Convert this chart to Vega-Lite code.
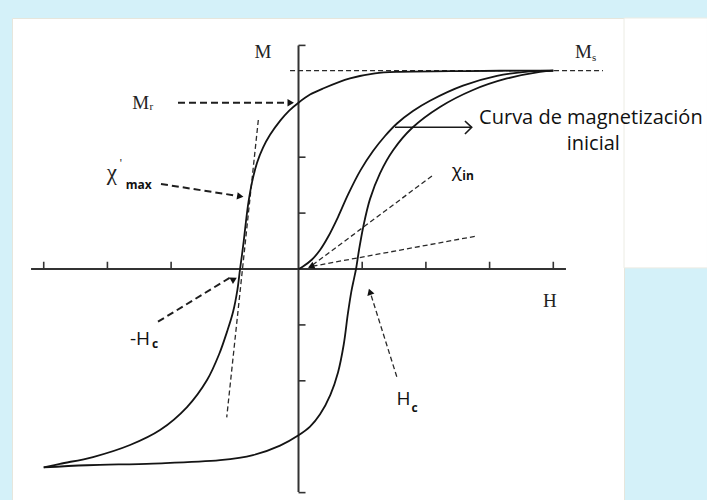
{
  "$schema": "https://vega.github.io/schema/vega-lite/v6.json",
  "width": 612,
  "height": 482,
  "autosize": {"type": "none"},
  "padding": {"left": 12, "top": 18, "right": 83, "bottom": 0},
  "background": "#d4f1f9",
  "config": {"view": {"fill": "#ffffff", "stroke": "#e6e6dc", "strokeWidth": 1}},
  "datasets": {
    "loop": [
      {"branch": "descending", "seq": 1, "H": 4.0, "M": 3.55},
      {"branch": "descending", "seq": 2, "H": 3.163, "M": 3.546},
      {"branch": "descending", "seq": 3, "H": 2.378, "M": 3.538},
      {"branch": "descending", "seq": 4, "H": 1.593, "M": 3.528},
      {"branch": "descending", "seq": 5, "H": 1.201, "M": 3.5},
      {"branch": "descending", "seq": 6, "H": 0.808, "M": 3.41},
      {"branch": "descending", "seq": 7, "H": 0.385, "M": 3.229},
      {"branch": "descending", "seq": 8, "H": 0.181, "M": 3.12},
      {"branch": "descending", "seq": 9, "H": 0.0, "M": 2.975},
      {"branch": "descending", "seq": 10, "H": -0.15, "M": 2.83},
      {"branch": "descending", "seq": 11, "H": -0.29, "M": 2.65},
      {"branch": "descending", "seq": 12, "H": -0.447, "M": 2.4},
      {"branch": "descending", "seq": 13, "H": -0.557, "M": 2.17},
      {"branch": "descending", "seq": 14, "H": -0.651, "M": 1.9},
      {"branch": "descending", "seq": 15, "H": -0.73, "M": 1.55},
      {"branch": "descending", "seq": 16, "H": -0.785, "M": 1.2},
      {"branch": "descending", "seq": 17, "H": -0.825, "M": 0.85},
      {"branch": "descending", "seq": 18, "H": -0.86, "M": 0.5},
      {"branch": "descending", "seq": 19, "H": -0.89, "M": 0.23},
      {"branch": "descending", "seq": 20, "H": -0.918, "M": 0.0},
      {"branch": "descending", "seq": 21, "H": -0.96, "M": -0.376},
      {"branch": "descending", "seq": 22, "H": -1.028, "M": -0.769},
      {"branch": "descending", "seq": 23, "H": -1.122, "M": -1.12},
      {"branch": "descending", "seq": 24, "H": -1.245, "M": -1.52},
      {"branch": "descending", "seq": 25, "H": -1.436, "M": -1.986},
      {"branch": "descending", "seq": 26, "H": -1.75, "M": -2.469},
      {"branch": "descending", "seq": 27, "H": -2.174, "M": -2.88},
      {"branch": "descending", "seq": 28, "H": -2.645, "M": -3.148},
      {"branch": "descending", "seq": 29, "H": -3.226, "M": -3.363},
      {"branch": "descending", "seq": 30, "H": -3.744, "M": -3.485},
      {"branch": "descending", "seq": 31, "H": -4.0, "M": -3.55},
      {"branch": "ascending", "seq": 1, "H": -4.0, "M": -3.55},
      {"branch": "ascending", "seq": 2, "H": -3.32, "M": -3.51},
      {"branch": "ascending", "seq": 3, "H": -2.284, "M": -3.48},
      {"branch": "ascending", "seq": 4, "H": -1.232, "M": -3.42},
      {"branch": "ascending", "seq": 5, "H": -0.714, "M": -3.33},
      {"branch": "ascending", "seq": 6, "H": -0.29, "M": -3.16},
      {"branch": "ascending", "seq": 7, "H": 0.0, "M": -2.975},
      {"branch": "ascending", "seq": 8, "H": 0.181, "M": -2.82},
      {"branch": "ascending", "seq": 9, "H": 0.338, "M": -2.6},
      {"branch": "ascending", "seq": 10, "H": 0.5, "M": -2.25},
      {"branch": "ascending", "seq": 11, "H": 0.62, "M": -1.85},
      {"branch": "ascending", "seq": 12, "H": 0.71, "M": -1.35},
      {"branch": "ascending", "seq": 13, "H": 0.775, "M": -0.8},
      {"branch": "ascending", "seq": 14, "H": 0.83, "M": -0.4},
      {"branch": "ascending", "seq": 15, "H": 0.87, "M": -0.18},
      {"branch": "ascending", "seq": 16, "H": 0.903, "M": 0.0},
      {"branch": "ascending", "seq": 17, "H": 0.95, "M": 0.34},
      {"branch": "ascending", "seq": 18, "H": 1.017, "M": 0.757},
      {"branch": "ascending", "seq": 19, "H": 1.122, "M": 1.25},
      {"branch": "ascending", "seq": 20, "H": 1.279, "M": 1.712},
      {"branch": "ascending", "seq": 21, "H": 1.488, "M": 2.129},
      {"branch": "ascending", "seq": 22, "H": 1.782, "M": 2.522},
      {"branch": "ascending", "seq": 23, "H": 2.221, "M": 2.898},
      {"branch": "ascending", "seq": 24, "H": 2.739, "M": 3.202},
      {"branch": "ascending", "seq": 25, "H": 3.273, "M": 3.408},
      {"branch": "ascending", "seq": 26, "H": 3.791, "M": 3.528},
      {"branch": "ascending", "seq": 27, "H": 4.0, "M": 3.55},
      {"branch": "initial", "seq": 1, "H": 0.0, "M": 0.0},
      {"branch": "initial", "seq": 2, "H": 0.07, "M": 0.045},
      {"branch": "initial", "seq": 3, "H": 0.212, "M": 0.17},
      {"branch": "initial", "seq": 4, "H": 0.338, "M": 0.34},
      {"branch": "initial", "seq": 5, "H": 0.463, "M": 0.572},
      {"branch": "initial", "seq": 6, "H": 0.62, "M": 0.93},
      {"branch": "initial", "seq": 7, "H": 0.777, "M": 1.33},
      {"branch": "initial", "seq": 8, "H": 0.97, "M": 1.76},
      {"branch": "initial", "seq": 9, "H": 1.17, "M": 2.11},
      {"branch": "initial", "seq": 10, "H": 1.358, "M": 2.379},
      {"branch": "initial", "seq": 11, "H": 1.546, "M": 2.603},
      {"branch": "initial", "seq": 12, "H": 1.797, "M": 2.826},
      {"branch": "initial", "seq": 13, "H": 2.064, "M": 3.01},
      {"branch": "initial", "seq": 14, "H": 2.582, "M": 3.28},
      {"branch": "initial", "seq": 15, "H": 3.116, "M": 3.455},
      {"branch": "initial", "seq": 16, "H": 3.634, "M": 3.535},
      {"branch": "initial", "seq": 17, "H": 4.0, "M": 3.55}
    ],
    "guides": [
      {"id": "ms", "kind": "thin", "seq": 1, "H": -0.133, "M": 3.55},
      {"id": "ms", "kind": "thin", "seq": 2, "H": 4.78, "M": 3.55},
      {"id": "mr", "kind": "pointer", "seq": 1, "H": -1.892, "M": 2.975},
      {"id": "mr", "kind": "pointer", "seq": 2, "H": -0.2, "M": 2.975},
      {"id": "chimax", "kind": "pointer", "seq": 1, "H": -2.159, "M": 1.521},
      {"id": "chimax", "kind": "pointer", "seq": 2, "H": -0.97, "M": 1.31},
      {"id": "hcneg", "kind": "pointer", "seq": 1, "H": -2.206, "M": -0.943},
      {"id": "hcneg", "kind": "pointer", "seq": 2, "H": -1.07, "M": -0.15},
      {"id": "tangent", "kind": "thin", "seq": 1, "H": -0.631, "M": 2.665},
      {"id": "tangent", "kind": "thin", "seq": 2, "H": -1.127, "M": -2.653},
      {"id": "chin_a", "kind": "thin", "seq": 1, "H": 0.22, "M": 0.07},
      {"id": "chin_a", "kind": "thin", "seq": 2, "H": 2.116, "M": 1.682},
      {"id": "chin_b", "kind": "thin", "seq": 1, "H": 0.22, "M": 0.05},
      {"id": "chin_b", "kind": "thin", "seq": 2, "H": 2.797, "M": 0.59},
      {"id": "hc", "kind": "thin", "seq": 1, "H": 1.543, "M": -1.927},
      {"id": "hc", "kind": "thin", "seq": 2, "H": 1.14, "M": -0.47},
      {"id": "initarrow", "kind": "solid", "seq": 1, "H": 1.515, "M": 2.535},
      {"id": "initarrow", "kind": "solid", "seq": 2, "H": 2.719, "M": 2.535},
      {"id": "inithead", "kind": "solid", "seq": 1, "H": 2.613, "M": 2.648},
      {"id": "inithead", "kind": "solid", "seq": 2, "H": 2.719, "M": 2.535},
      {"id": "inithead", "kind": "solid", "seq": 3, "H": 2.613, "M": 2.415}
    ],
    "heads": [
      {"target": "Mr", "H": -0.122, "M": 2.975, "dir": 0},
      {"target": "chi max", "H": -0.914, "M": 1.3, "dir": 9},
      {"target": "-Hc", "H": -1.013, "M": -0.184, "dir": -29},
      {"target": "Hc", "H": 1.121, "M": -0.406, "dir": -108},
      {"target": "chi in", "H": 0.196, "M": 0.045, "dir": 157}
    ],
    "axes": [
      {"H": -4.199, "H2": 4.199, "M": 0, "M2": 0},
      {"H": 0, "H2": 0, "M": -3.99, "M2": 4.0}
    ],
    "ticksH": [
      {"H": -4, "M": 0}, {"H": -3, "M": 0}, {"H": -2, "M": 0},
      {"H": 1, "M": 0}, {"H": 2, "M": 0}, {"H": 3, "M": 0}, {"H": 4, "M": 0}
    ],
    "ticksM": [
      {"H": 0, "M": -4}, {"H": 0, "M": -2}, {"H": 0, "M": -1},
      {"H": 0, "M": 1}, {"H": 0, "M": 2}, {"H": 0, "M": 4}
    ],
    "panel": [
      {"H": 5.11, "H2": 6.42, "M": 4.49, "M2": 0.02}
    ],
    "labels": [
      {"role": "serif", "t": "M", "H": -0.557, "M": 3.775},
      {"role": "serif", "t": "M", "H": 4.472, "M": 3.769},
      {"role": "serif", "t": "M", "H": -2.476, "M": 2.857},
      {"role": "serif", "t": "H", "H": 3.948, "M": -0.674},
      {"role": "serifsub", "t": "s", "H": 4.64, "M": 3.721},
      {"role": "serifsub", "t": "r", "H": -2.31, "M": 2.844},
      {"role": "greek", "t": "χ", "H": -2.93, "M": 1.592},
      {"role": "prime", "t": "'", "H": -2.79, "M": 1.82},
      {"role": "sans", "t": "-H", "H": -2.488, "M": -1.36},
      {"role": "sans", "t": "H", "H": 1.648, "M": -2.433},
      {"role": "sans", "t": "χ", "H": 2.488, "M": 1.646},
      {"role": "sub", "t": "c", "H": -2.253, "M": -1.419},
      {"role": "sub", "t": "c", "H": 1.824, "M": -2.553},
      {"role": "sub", "t": "in", "H": 2.661, "M": 1.592},
      {"role": "sub", "t": "max", "H": -2.507, "M": 1.426},
      {"role": "caption", "t": "Curva de magnetización", "H": 4.59, "M": 2.594},
      {"role": "caption", "t": "inicial", "H": 4.628, "M": 2.129}
    ]
  },
  "encoding": {
    "x": {"field": "H", "type": "quantitative", "scale": {"domain": [-4.498, 5.11], "nice": false, "zero": false}, "axis": null},
    "y": {"field": "M", "type": "quantitative", "scale": {"domain": [-4.132, 4.49], "nice": false, "zero": false}, "axis": null}
  },
  "layer": [
    {
      "data": {"name": "panel"},
      "mark": {"type": "rect", "fill": "#ffffff", "stroke": "#ecece4", "strokeWidth": 1},
      "encoding": {"x2": {"field": "H2"}, "y2": {"field": "M2"}}
    },
    {
      "data": {"name": "axes"},
      "mark": {"type": "rule", "color": "#333333", "strokeWidth": 2},
      "encoding": {"x2": {"field": "H2"}, "y2": {"field": "M2"}}
    },
    {
      "data": {"name": "ticksH"},
      "mark": {"type": "rule", "color": "#333333", "strokeWidth": 1.6},
      "encoding": {"y2": {"datum": 0.13}}
    },
    {
      "data": {"name": "ticksM"},
      "mark": {"type": "rule", "color": "#333333", "strokeWidth": 1.6},
      "encoding": {"x2": {"datum": 0.11}}
    },
    {
      "data": {"name": "guides"},
      "transform": [{"filter": "datum.kind === 'thin'"}],
      "mark": {"type": "line", "color": "#2a2a2a", "strokeWidth": 1.3, "strokeDash": [5, 3]},
      "encoding": {"detail": {"field": "id"}, "order": {"field": "seq"}}
    },
    {
      "data": {"name": "guides"},
      "transform": [{"filter": "datum.kind === 'pointer'"}],
      "mark": {"type": "line", "color": "#1e1e1e", "strokeWidth": 2, "strokeDash": [7, 4]},
      "encoding": {"detail": {"field": "id"}, "order": {"field": "seq"}}
    },
    {
      "data": {"name": "guides"},
      "transform": [{"filter": "datum.kind === 'solid'"}],
      "mark": {"type": "line", "color": "#1a1a1a", "strokeWidth": 1.6},
      "encoding": {"detail": {"field": "id"}, "order": {"field": "seq"}}
    },
    {
      "data": {"name": "loop"},
      "mark": {"type": "line", "color": "#141414", "strokeWidth": 1.8, "interpolate": "catmull-rom"},
      "encoding": {"detail": {"field": "branch"}, "order": {"field": "seq"}}
    },
    {
      "data": {"name": "heads"},
      "mark": {"type": "point", "shape": "triangle-right", "filled": true, "color": "#111111", "size": 55, "opacity": 1},
      "encoding": {"angle": {"field": "dir", "type": "quantitative", "scale": null}}
    },
    {
      "data": {"name": "labels"},
      "transform": [{"filter": "datum.role === 'serif'"}],
      "mark": {"type": "text", "font": "Liberation Serif", "fontSize": 19, "align": "center", "baseline": "alphabetic", "color": "#222222"},
      "encoding": {"text": {"field": "t"}}
    },
    {
      "data": {"name": "labels"},
      "transform": [{"filter": "datum.role === 'serifsub'"}],
      "mark": {"type": "text", "font": "Liberation Serif", "fontSize": 11, "align": "center", "baseline": "alphabetic", "color": "#222222"},
      "encoding": {"text": {"field": "t"}}
    },
    {
      "data": {"name": "labels"},
      "transform": [{"filter": "datum.role === 'greek'"}],
      "mark": {"type": "text", "font": "Liberation Serif", "fontSize": 23, "align": "center", "baseline": "alphabetic", "color": "#222222"},
      "encoding": {"text": {"field": "t"}}
    },
    {
      "data": {"name": "labels"},
      "transform": [{"filter": "datum.role === 'prime'"}],
      "mark": {"type": "text", "font": "Liberation Serif", "fontSize": 12, "align": "center", "baseline": "alphabetic", "color": "#222222"},
      "encoding": {"text": {"field": "t"}}
    },
    {
      "data": {"name": "labels"},
      "transform": [{"filter": "datum.role === 'sans'"}],
      "mark": {"type": "text", "font": "Open Sans", "fontSize": 19, "align": "center", "baseline": "alphabetic", "color": "#111111"},
      "encoding": {"text": {"field": "t"}}
    },
    {
      "data": {"name": "labels"},
      "transform": [{"filter": "datum.role === 'sub'"}],
      "mark": {"type": "text", "font": "Open Sans", "fontSize": 12, "fontWeight": "bold", "align": "center", "baseline": "alphabetic", "color": "#111111"},
      "encoding": {"text": {"field": "t"}}
    },
    {
      "data": {"name": "labels"},
      "transform": [{"filter": "datum.role === 'caption'"}],
      "mark": {"type": "text", "font": "Open Sans", "fontSize": 20, "align": "center", "baseline": "alphabetic", "color": "#111111"},
      "encoding": {"text": {"field": "t"}}
    }
  ]
}
